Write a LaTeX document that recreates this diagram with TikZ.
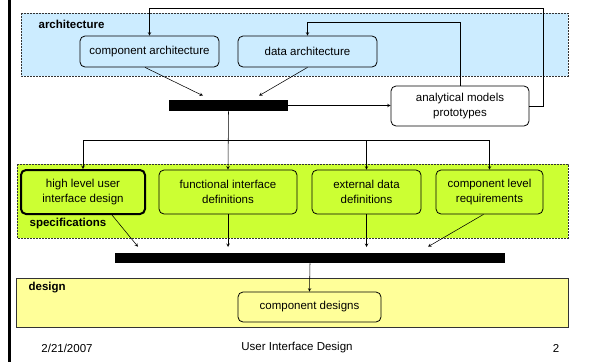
\documentclass[tikz,border=0pt]{standalone}
\usepackage{fontspec}
\setmainfont{Liberation Sans}
\definecolor{archblue}{HTML}{CCECFF}
\definecolor{specgreen}{HTML}{CCFF33}
\definecolor{designyellow}{HTML}{FFFF99}
\begin{document}
\begin{tikzpicture}[x=1pt, y=-1pt, >=stealth, line width=0.55pt,
    every node/.style={font=\fontsize{11.5}{15}\selectfont},
    box/.style={draw, line width=0.8pt, rounded corners=5pt, align=center, inner sep=0pt},
    bar/.style={fill=black, inner sep=0pt},
    area/.style={draw=black!80, dash pattern=on 2pt off 1pt, line width=0.8pt},
    tag/.style={anchor=west, font=\fontsize{11.5}{15}\selectfont\bfseries}]
  \useasboundingbox (0,0) rectangle (592,362);
  % Slide border
  \draw[line width=2.5pt] (9.5,0) -- (9.5,362);
  % Areas
  \filldraw[area, fill=archblue] (21,13) rectangle (568,76);
  \filldraw[area, fill=specgreen] (17,164) rectangle (568,238);
  \filldraw[draw=black!80, line width=0.8pt, fill=designyellow] (16,278) rectangle (568,327);
  \node[tag] (ARCH) at (35,24) {architecture};
  \node[tag] (SPEC) at (26,224) {specifications};
  \node[tag] (DES) at (25,288) {design};
  % Architecture
  \node[box, fill=archblue, minimum width=139pt, minimum height=31pt]
    (CA) at (149.5,51.5) {component architecture};
  \node[box, fill=archblue, minimum width=139pt, minimum height=31pt]
    (DA) at (307.5,51.5) {data architecture};
  \node[bar, minimum width=119pt, minimum height=11pt] (BAR1) at (228.5,105.5) {};
  \node[box, fill=white, minimum width=138pt, minimum height=40pt]
    (AM) at (460,106) {analytical models\\prototypes};
  % Specifications
  \node[box, fill=specgreen, line width=2pt, minimum width=124pt, minimum height=44pt]
    (HL) at (83,192) {high level user\\interface design};
  \node[box, fill=specgreen, minimum width=138pt, minimum height=44pt]
    (FI) at (228,192) {functional interface\\definitions};
  \node[box, fill=specgreen, minimum width=109pt, minimum height=44pt]
    (ED) at (366.5,192) {external data\\definitions};
  \node[box, fill=specgreen, minimum width=107pt, minimum height=44pt]
    (CL) at (489.5,192) {component level\\requirements};
  \node[bar, minimum width=390pt, minimum height=10pt] (BAR2) at (310,258) {};
  % Design
  \node[box, fill=designyellow, minimum width=143pt, minimum height=30pt]
    (CD) at (309.5,307) {component designs};
  % Footer
  \node (DATE) at (67,348) {2/21/2007};
  \node (TITLE) at (297,348) {User Interface Design};
  \node (PAGE) at (556,348) {2};
  % Into the first bar
  \draw[->] ([xshift=-4.5pt]CA.south) -- ([xshift=-25.5pt, yshift=4pt]BAR1.north);
  \draw[->] (DA.south) -- ([xshift=30.5pt, yshift=4pt]BAR1.north);
  \draw[->] (BAR1.east) -- (AM.west |- BAR1.east);
  % Feedback
  \draw[->] (AM.east) -- (543,106) -- (543,8) -| (CA.north);
  \draw[->] (AM.north) -- (AM.north |- 0,22) -| (DA.north);
  % Fan out to specifications
  \coordinate (FORK) at (228.5,140);
  \draw[->] (BAR1.south) -- (FI.north);
  \draw[->] (FORK) -| (HL.north);
  \draw[->] (FORK) -| (ED.north);
  \draw[->] (FORK) -| (CL.north);
  % Into the second bar
  \draw[->] ([xshift=29pt]HL.south) -- ([xshift=-172pt, yshift=6pt]BAR2.north);
  \draw[->] (FI.south) -- (FI.south |- 0,247);
  \draw[->] (ED.south) -- (ED.south |- 0,247);
  \draw[->] ([xshift=-6pt]CL.south) -- ([xshift=118pt, yshift=6pt]BAR2.north);
  \draw[->] (BAR2.south) -- (CD.north);
\end{tikzpicture}
\end{document}
